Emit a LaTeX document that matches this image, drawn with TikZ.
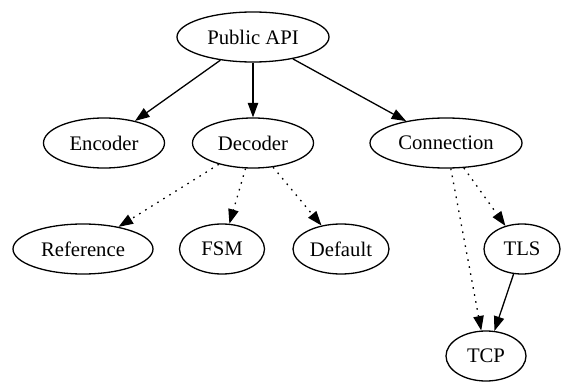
\documentclass[tikz,border=0pt]{standalone}
\usepackage{fontspec}
\setmainfont{Liberation Serif}
\usetikzlibrary{shapes.geometric,arrows.meta}
\tikzset{
  gnode/.style={draw, ellipse, line width=1.3pt, inner sep=0pt,
    minimum height=50pt, font=\fontsize{20.7}{24}\selectfont},
  gedge/.style={line width=1.3pt, -{Triangle[length=14.5pt,width=10.4pt]}},
  dotedge/.style={gedge, dash pattern=on 1.6pt off 5.5pt},
}
\begin{document}
\begin{tikzpicture}[x=1pt,y=-1pt]
\useasboundingbox (0,0) rectangle (562,385);
\node[gnode, minimum width=152pt] (api) at (253,37) {Public API};
\node[gnode, minimum width=121pt] (enc) at (104,143) {Encoder};
\node[gnode, minimum width=121pt] (dec) at (253,143) {Decoder};
\node[gnode, minimum width=152pt] (conn) at (446,143) {Connection};
\node[gnode, minimum width=140pt] (ref) at (83,249) {Reference};
\node[gnode, minimum width=85pt] (fsm) at (222,249) {FSM};
\node[gnode, minimum width=96pt] (def) at (341,249) {Default};
\node[gnode, minimum width=76pt] (tls) at (522,249) {TLS};
\node[gnode, minimum width=80pt] (tcp) at (486,356) {TCP};
\draw[gedge] (api) -- (enc);
\draw[gedge] (api) -- (dec);
\draw[gedge] (api) -- (conn);
\draw[dotedge] (dec) -- (ref);
\draw[dotedge] (dec) -- (fsm);
\draw[dotedge] (dec) -- (def);
\draw[dotedge] (conn) -- (tls);
\draw[dotedge] (conn) -- (tcp);
\draw[gedge] (tls) -- (tcp);
\end{tikzpicture}
\end{document}
